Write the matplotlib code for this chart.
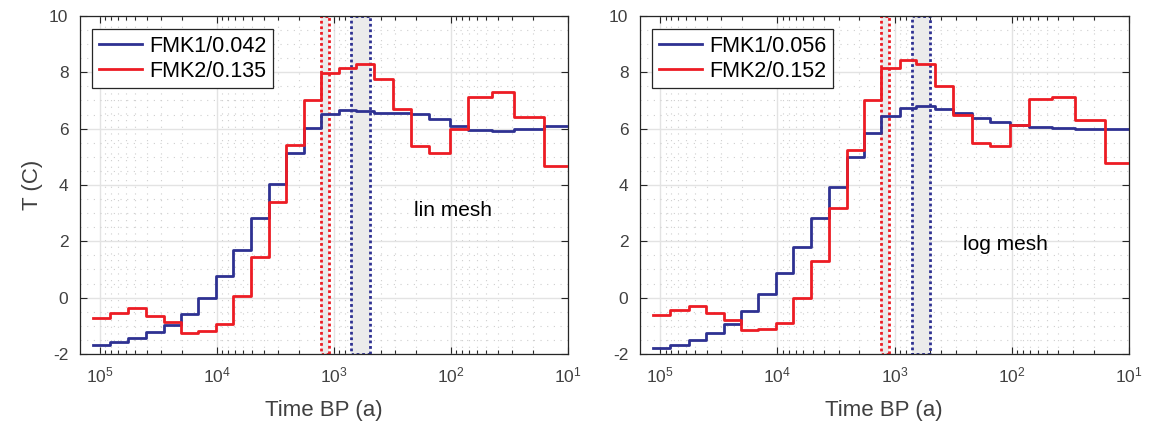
import numpy as np
import matplotlib
matplotlib.use("Agg")
import matplotlib.pyplot as plt
from matplotlib.ticker import LogLocator, LogFormatterSciNotation, MultipleLocator, NullFormatter
from matplotlib.patches import Rectangle

plt.rcParams['font.family'] = ['Liberation Sans', 'DejaVu Sans']
plt.rcParams['axes.unicode_minus'] = False

# Time mesh edges (years BP), oldest -> youngest
edges = [114000, 82000, 57200, 40300, 28300, 20300, 14600, 10300, 7290, 5120,
         3610, 2560, 1810, 1300, 906, 652, 454, 316, 220, 153, 103, 72, 45, 29, 16, 10]

# Panel 1: lin mesh
lin_fmk1 = [-1.67, -1.57, -1.43, -1.23, -0.96, -0.57, 0.0, 0.76, 1.70, 2.83, 4.03, 5.13,
            6.02, 6.51, 6.67, 6.62, 6.57, 6.57, 6.53, 6.35, 6.11, 5.94, 5.91, 5.99, 6.11]
lin_fmk2 = [-0.72, -0.54, -0.37, -0.64, -0.85, -1.25, -1.17, -0.92, 0.07, 1.44, 3.39, 5.41,
            7.01, 7.96, 8.14, 8.29, 7.77, 6.69, 5.39, 5.15, 6.0, 7.13, 7.30, 6.41, 4.69]
# Panel 2: log mesh
log_fmk1 = [-1.79, -1.69, -1.52, -1.27, -0.93, -0.48, 0.14, 0.89, 1.81, 2.83, 3.93, 4.98,
            5.83, 6.45, 6.75, 6.81, 6.71, 6.55, 6.39, 6.23, 6.13, 6.06, 6.01, 5.99, 5.99]
log_fmk2 = [-0.60, -0.45, -0.30, -0.56, -0.80, -1.15, -1.13, -0.90, -0.02, 1.29, 3.19, 5.24,
            7.00, 8.14, 8.43, 8.30, 7.52, 6.48, 5.48, 5.38, 6.13, 7.06, 7.14, 6.29, 4.77]

labels_lin = ['FMK1/0.042', 'FMK2/0.135']
labels_log = ['FMK1/0.056', 'FMK2/0.152']

red_band = (1105, 1300)
blue_band = (494, 710)

BLUE = '#2E3192'
RED = '#ED1C24'
AX = '#262626'

fig = plt.figure(figsize=(11.49, 4.23), dpi=100)
ax1 = fig.add_axes([79.5/1149, 1-354/423, 488.5/1149, 338/423])
ax2 = fig.add_axes([639.5/1149, 1-354/423, 489.5/1149, 338/423])

def draw(ax, b, r, labs, note, note_xy, ylabel):
    ax.set_xscale('log')
    ax.set_xlim(1.5e5, 10)
    ax.set_ylim(-2, 10)
    ax.set_axisbelow(True)
    # bands
    for (x0, x1), col in ((red_band, RED), (blue_band, BLUE)):
        ax.add_patch(Rectangle((x0, -2), x1 - x0, 12, facecolor='#EBEBEB', edgecolor='none', zorder=1))
        ax.add_patch(Rectangle((x0, -2), x1 - x0, 12, facecolor='none', edgecolor=col,
                               linestyle=(0, (1, 1)), linewidth=2.0, zorder=1.5))
    yb = list(b) + [b[-1]]
    yr = list(r) + [r[-1]]
    ax.step(edges, yb, where='post', color=BLUE, lw=2.0, label=labs[0], zorder=3)
    ax.step(edges, yr, where='post', color=RED, lw=2.0, label=labs[1], zorder=3)

    ax.xaxis.set_major_locator(LogLocator(base=10, numticks=10))
    ax.xaxis.set_major_formatter(LogFormatterSciNotation())
    ax.xaxis.set_minor_locator(LogLocator(base=10, subs=np.arange(2, 10), numticks=20))
    ax.xaxis.set_minor_formatter(NullFormatter())
    ax.yaxis.set_major_locator(MultipleLocator(2))
    ax.yaxis.set_minor_locator(MultipleLocator(0.5))

    ax.grid(which='major', color='#E3E3E3', lw=1.0, ls='-')
    ax.grid(which='minor', color='#CFCFCF', lw=0.8, ls=(0, (1, 5)))

    ax.tick_params(which='both', direction='in', top=True, right=True, colors=AX,
                   labelsize=12.5, pad=8)
    ax.tick_params(which='both', labelcolor='#404040')
    ax.tick_params(which='major', length=5, width=0.8)
    ax.tick_params(axis='x', which='minor', length=3, width=0.8)
    ax.tick_params(axis='y', which='minor', length=0)
    for s in ax.spines.values():
        s.set_color(AX)
        s.set_linewidth(0.9)

    ax.set_xlabel('Time BP (a)', fontsize=16, color='#404040', labelpad=11)
    if ylabel:
        ax.set_ylabel('T (C)', fontsize=16, color='#404040', labelpad=4)
    ax.text(note_xy[0], note_xy[1], note, fontsize=15, color='black', ha='left', va='center')

    leg = ax.legend(loc='upper left', bbox_to_anchor=(0.026, 0.961), borderaxespad=0,
                    fontsize=15.5, frameon=True, fancybox=False, handlelength=2.0,
                    handletextpad=0.35, borderpad=0.3, labelspacing=0.2)
    leg.get_frame().set_edgecolor(AX)
    leg.get_frame().set_linewidth(0.9)
    leg.get_frame().set_alpha(1)
    for t in leg.get_texts():
        t.set_color('black')

draw(ax1, lin_fmk1, lin_fmk2, labels_lin, 'lin mesh', (206, 3.1), True)
draw(ax2, log_fmk1, log_fmk2, labels_log, 'log mesh', (260, 1.9), False)

fig.savefig('out.png', dpi=100)
